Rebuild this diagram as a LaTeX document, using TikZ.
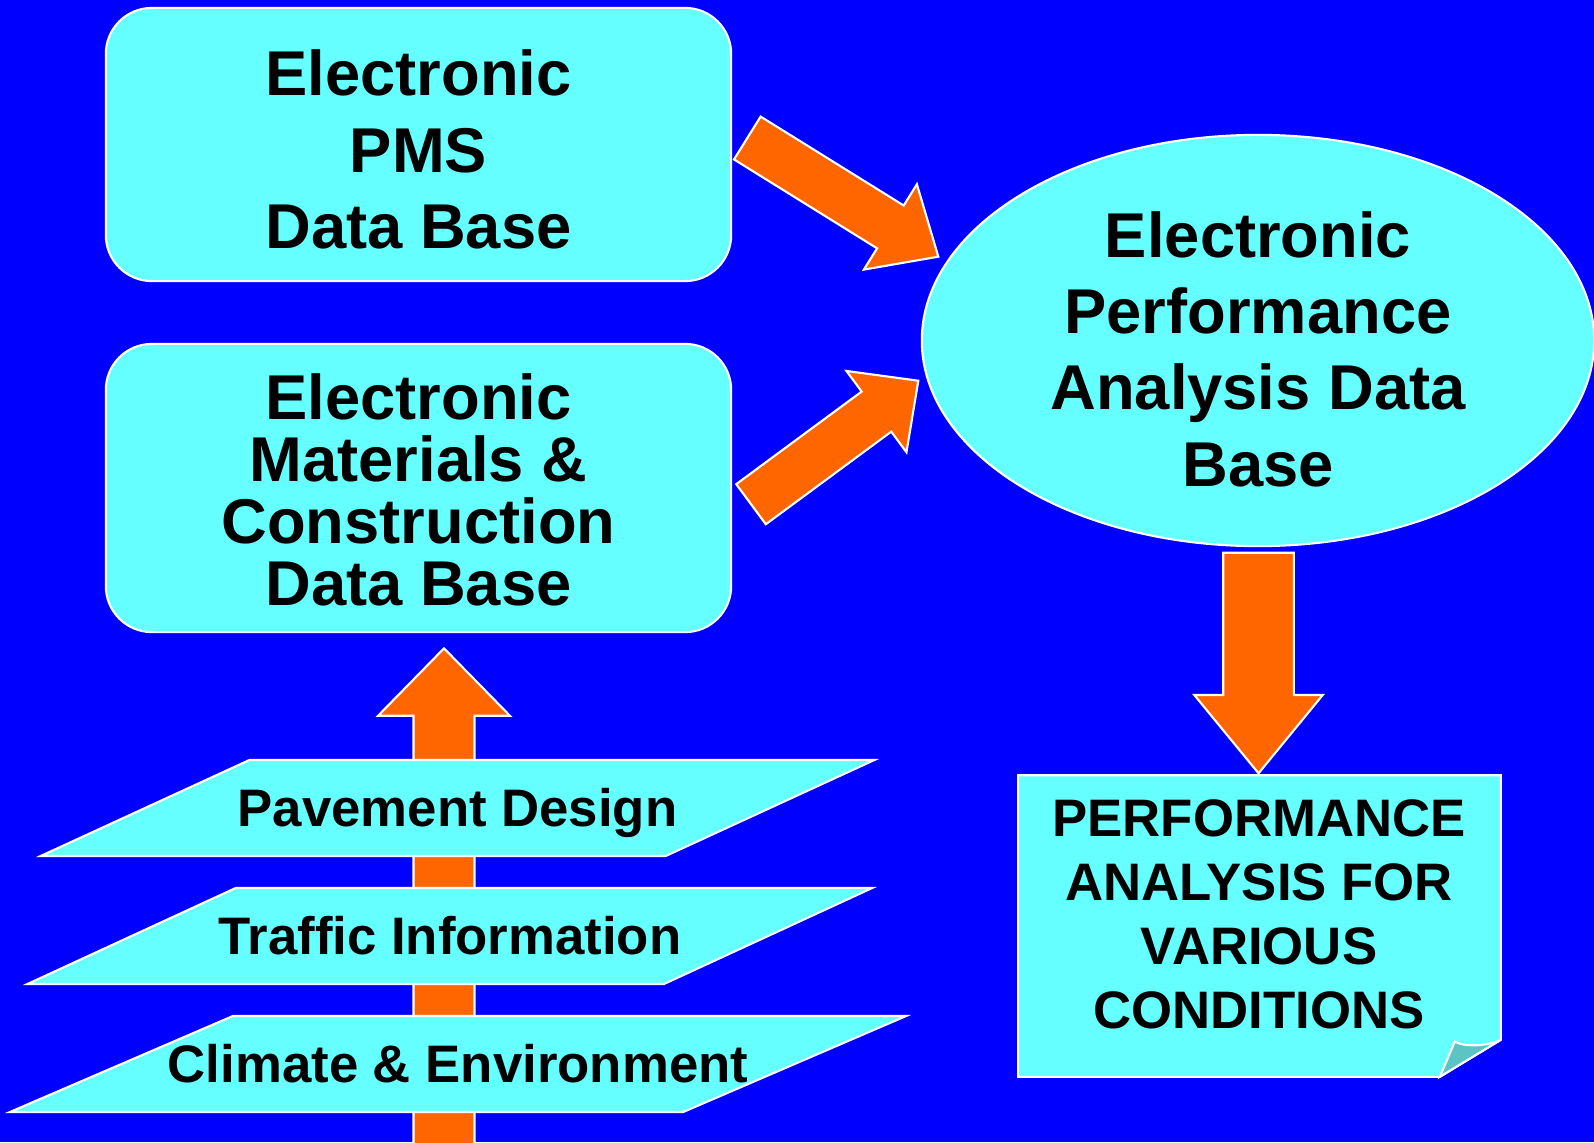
\documentclass[tikz,border=0pt]{standalone}
\usepackage{fontspec}
\setmainfont{Liberation Sans}
\usepackage{tikz}
\usetikzlibrary{shapes.geometric}
\usetikzlibrary{calc}

\definecolor{slideblue}{RGB}{0,0,255}
\definecolor{boxcyan}{RGB}{102,255,255}
\definecolor{arroworange}{RGB}{255,102,0}
\definecolor{foldcyan}{RGB}{92,196,196}

\tikzset{
  dbbox/.style={rectangle, rounded corners=0.46cm, draw=white, line width=0.6pt,
    fill=boxcyan, minimum width=6.25cm, inner sep=0pt},
  dbellipse/.style={ellipse, draw=white, line width=0.6pt, fill=boxcyan,
    minimum width=6.72cm, minimum height=4.11cm, inner sep=0pt},
  bigtext/.style={align=center, inner sep=0pt, font=\fontsize{18}{21.7}\selectfont\bfseries},
  inputbox/.style={trapezium, trapezium left angle=24.7, trapezium right angle=155.3,
    draw=white, line width=0.6pt, fill=boxcyan,
    text height=10.7pt, text depth=0pt, inner xsep=#1, inner ysep=8.3pt,
    font=\fontsize{15}{18}\selectfont\bfseries},
  reporttext/.style={align=center, inner sep=0pt, font=\fontsize{15}{18.2}\selectfont\bfseries},
  blockfill/.style={fill=arroworange, draw=white, line width=0.6pt},
  sheetfill/.style={fill=boxcyan, draw=white, line width=0.6pt},
}

% block arrow: tail, tip, half shaft, half head, head length
\newcommand{\blockarrow}[5]{%
  \coordinate (ba-h) at ($(#2)!#5!(#1)$);
  \path[blockfill] ($(#1)!#3!90:(#2)$) -- ($(ba-h)!#3!90:(#2)$) -- ($(ba-h)!#4!90:(#2)$)
    -- (#2) -- ($(ba-h)!#4!-90:(#2)$) -- ($(ba-h)!#3!-90:(#2)$) -- ($(#1)!#3!-90:(#2)$) -- cycle;
}

\begin{document}
\begin{tikzpicture}[x=0.01cm, y=-0.01cm]
\fill[slideblue] (0,0) rectangle (1594,1142);
\useasboundingbox (0,0) rectangle (1594,1142);

% data bases
\node[dbbox, minimum height=2.73cm] (pms) at (418.5,144.5) {};
\node[bigtext] (pmstext) at (418.5,149.5) {Electronic\\PMS\\Data Base};
\node[dbbox, minimum height=2.88cm] (mcdb) at (418.5,488) {};
\node[bigtext, font=\fontsize{18}{17.6}\selectfont\bfseries] (mcdbtext) at (418.5,490)
  {Electronic\\Materials \&\\Construction\\Data Base};

\node[dbellipse] (epadb) at (1258,340.5) {};
\node[bigtext] (epadbtext) at (1258,349) {Electronic\\Performance\\Analysis Data\\Base};

% report sheet
\node[minimum width=4.81cm, minimum height=3cm, inner sep=0pt] (perf) at (1259.5,926) {};
\path[sheetfill] (perf.north west) -- (perf.north east) -- ([yshift=0.37cm]perf.south east)
  -- ([xshift=-0.61cm]perf.south east) -- (perf.south west) -- cycle;
\path[sheetfill, fill=foldcyan] ([xshift=-0.61cm]perf.south east)
  -- ([shift={(-0.46cm,0.353cm)}]perf.south east)
  .. controls ([shift={(-0.38cm,0.30cm)}]perf.south east) and ([shift={(-0.15cm,0.30cm)}]perf.south east)
  .. ([yshift=0.37cm]perf.south east) -- cycle;
\node[reporttext] (perftext) at (1259,914) {PERFORMANCE\\ANALYSIS FOR\\VARIOUS\\CONDITIONS};

% arrows
\coordinate (pmsout) at (747.3,138);
\coordinate (pmsin) at (938.3,256.7);
\coordinate (mcdbout) at (751,504.2);
\coordinate (mcdbin) at (918.3,380.7);
\coordinate (epaout) at (1258.5,552.7);
\coordinate (perfin) at (1258.5,773.3);
\coordinate (inputout) at (444,1160);
\coordinate (mcdbfoot) at (444,648.3);
\blockarrow{pmsout}{pmsin}{0.252cm}{0.502cm}{0.564cm}
\blockarrow{mcdbout}{mcdbin}{0.249cm}{0.505cm}{0.52cm}
\blockarrow{epaout}{perfin}{0.353cm}{0.642cm}{0.783cm}
\blockarrow{inputout}{mcdbfoot}{0.305cm}{0.659cm}{0.674cm}

% inputs
\node[inputbox=2.08cm] (pave) at (457.5,808) {\makebox[0pt]{Pavement Design}};
\node[inputbox=2.14cm, trapezium left angle=24.75, trapezium right angle=155.25]
  (traffic) at (449.8,936) {\makebox[0pt]{Traffic Information}};
\node[inputbox=2.25cm, trapezium left angle=23.3, trapezium right angle=156.7]
  (climate) at (458,1064) {\makebox[0pt]{Climate \& Environment}};
\end{tikzpicture}
\end{document}
